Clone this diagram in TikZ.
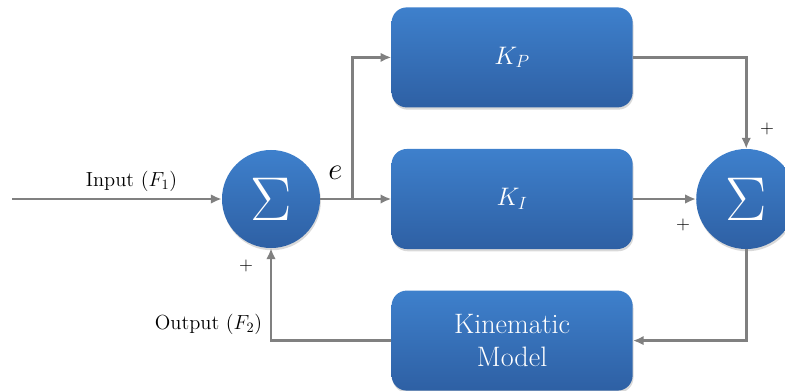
\documentclass[tikz,border=0pt]{standalone}
\usepackage{fix-cm}
\usepackage{amsmath}
\usepackage{tikz}
\usetikzlibrary{arrows.meta,positioning,shadows}
\definecolor{blocktop}{RGB}{62,128,204}
\definecolor{blockbot}{RGB}{46,96,164}
\definecolor{wiregray}{RGB}{128,128,128}
\begin{document}
\begin{tikzpicture}[x=0.025cm, y=-0.025cm, node distance=1.025cm and 1.775cm,
  block/.style={rounded corners=0.38cm, top color=blocktop, bottom color=blockbot, draw=none,
    minimum width=6.025cm, minimum height=2.5cm, text=white, align=center,
    drop shadow={shadow xshift=0.6pt, shadow yshift=-1.6pt, opacity=0.3}},
  sumnode/.style={circle, top color=blocktop, bottom color=blockbot, draw=none,
    minimum size=2.45cm, inner sep=0pt, text=white, font=\fontsize{44}{48}\selectfont,
    drop shadow={shadow xshift=0.6pt, shadow yshift=-1.6pt, opacity=0.3}},
  conn/.style={-{Latex[length=2.7mm,width=2.4mm]}, line width=1.8pt, wiregray},
  sign/.style={text=black, font=\fontsize{13}{15}\selectfont},
  every node/.style={text=black, font=\fontsize{14.5}{17}\selectfont}]
\clip (0,0) rectangle (785,390);
% summing junctions and blocks
\node[sumnode] (sum1) at (271,199) {$\Sigma$};
\node[block,right=1.775cm of sum1, font=\fontsize{18}{20}\selectfont] (ki) {$K_I$};
\node[block,above=of ki, font=\fontsize{18}{20}\selectfont] (kp) {$K_P$};
\node[block,below=of ki, font=\fontsize{20}{23}\selectfont] (km) {Kinematic\\Model};
\node[sumnode,minimum size=2.5cm,right=1.575cm of ki] (sum2) {$\Sigma$};
\coordinate (in) at (12,199);
\coordinate (br) at ([xshift=0.8cm]sum1.east);
% connectors
\draw[conn] (in) -- node[pos=0.57,above=1pt] {Input ($F_1$)} (sum1);
\draw[conn] (sum1) -- (ki);
\draw[conn] (br) |- (kp);
\draw[conn] (kp) -| (sum2);
\draw[conn] (ki) -- (sum2);
\draw[conn] (sum2) |- (km);
\draw[conn] (km) -| node[pos=0.59,left=2pt] {Output ($F_2$)} (sum1);
% labels
\node[font=\fontsize{22}{24}\selectfont] (e) at ([xshift=0.375cm,yshift=0.65cm]sum1.east) {$e$};
\node[sign] (p1) at ([xshift=-0.62cm,yshift=-0.45cm]sum1.south) {$+$};
\node[sign] (p2) at ([xshift=0.52cm,yshift=0.5cm]sum2.north) {$+$};
\node[sign] (p3) at ([xshift=-0.32cm,yshift=-0.65cm]sum2.west) {$+$};
\end{tikzpicture}
\end{document}
